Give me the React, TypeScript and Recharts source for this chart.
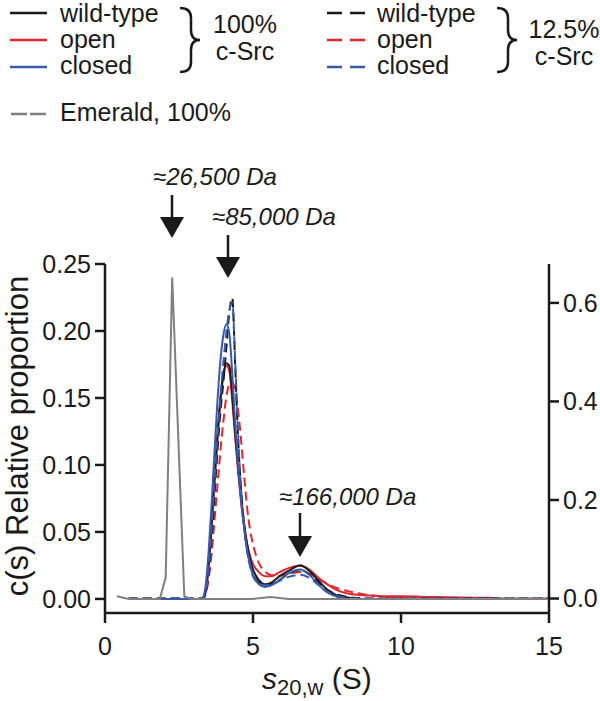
import React from 'react';
import { LineChart, Line, XAxis, YAxis } from 'recharts';

// sedimentation coefficient grid (S) shared by the c-Src traces
const sGrid = [
  0.8, 3.2, 3.3, 3.4, 3.5, 3.6, 3.7, 3.8, 3.9, 4.0, 4.1, 4.2, 4.3, 4.4, 4.5, 4.6, 4.7, 4.8, 4.9, 5.0,
  5.2, 5.4, 5.6, 5.9, 6.2, 6.6, 6.9, 7.2, 7.5, 7.8, 8.2, 8.6, 9.0, 9.5, 10, 11, 12, 13, 13.5, 15,
];

// 100% c-Src, left axis
const wildType100 = [
  0, 0, 0, 0.006, 0.025, 0.055, 0.09, 0.122, 0.15, 0.168, 0.176, 0.174, 0.152, 0.123, 0.097, 0.075, 0.056, 0.041, 0.03, 0.022,
  0.014, 0.011, 0.012, 0.017, 0.021, 0.025, 0.021, 0.014, 0.007, 0.003, 0.001, 0, 0, 0, 0, 0, 0, 0, 0, 0,
];
const open100 = [
  0, 0, 0, 0.005, 0.024, 0.054, 0.088, 0.12, 0.148, 0.166, 0.174, 0.17, 0.148, 0.12, 0.094, 0.072, 0.054, 0.041, 0.032, 0.026,
  0.02, 0.017, 0.017, 0.02, 0.023, 0.025, 0.022, 0.016, 0.011, 0.007, 0.004, 0.003, 0.0025, 0.002, 0.002, 0.0015, 0.001, 0.0008, 0, 0,
];
const closed100 = [
  0, 0, 0.001, 0.01, 0.035, 0.07, 0.11, 0.148, 0.178, 0.197, 0.205, 0.198, 0.168, 0.13, 0.098, 0.073, 0.053, 0.037, 0.026, 0.018,
  0.011, 0.009, 0.01, 0.014, 0.019, 0.022, 0.018, 0.011, 0.005, 0.002, 0, 0, 0, 0, 0, 0, 0, 0, 0, 0,
];

// 12.5% c-Src, right axis
const wildType125 = [
  0, 0, 0, 0.01, 0.05, 0.12, 0.21, 0.3, 0.38, 0.44, 0.51, 0.58, 0.61, 0.47, 0.32, 0.22, 0.15, 0.1, 0.07, 0.05,
  0.032, 0.027, 0.029, 0.038, 0.05, 0.058, 0.05, 0.033, 0.018, 0.009, 0.003, 0.001, 0, 0, 0, 0, 0, 0, 0, 0,
];
const open125 = [
  0, 0, 0, 0.008, 0.04, 0.09, 0.16, 0.23, 0.3, 0.36, 0.41, 0.435, 0.44, 0.42, 0.38, 0.32, 0.25, 0.185, 0.14, 0.11,
  0.072, 0.055, 0.048, 0.046, 0.05, 0.054, 0.05, 0.04, 0.03, 0.022, 0.015, 0.01, 0.006, 0.003, 0.001, 0, 0, 0, 0, 0,
];
const closed125 = [
  0, 0, 0, 0.012, 0.06, 0.14, 0.24, 0.33, 0.41, 0.48, 0.54, 0.585, 0.6, 0.48, 0.33, 0.22, 0.145, 0.095, 0.065, 0.045,
  0.031, 0.027, 0.029, 0.036, 0.044, 0.048, 0.042, 0.028, 0.014, 0.006, 0.001, 0, 0, 0, 0, 0, 0, 0, 0, 0,
];

// Emerald control
const emeraldS = [0.4, 0.8, 1.85, 2.05, 2.27, 2.68, 2.9, 5.0, 5.6, 6.2, 15];
const emeraldC = [0.002, 0, 0, 0.016, 0.24, 0.002, 0, 0, 0.0015, 0, 0];

const xTicks = [0, 5, 10, 15];
const leftTicks = [0, 0.05, 0.1, 0.15, 0.2, 0.25];
const rightTicks = [0, 0.2, 0.4, 0.6];

const BLACK = '#1a1a1a';
const RED = '#e2262e';
const BLUE = '#3a5aa8';
const GRAY = '#808080';
const FONT = '"Liberation Sans", Arial, Helvetica, sans-serif';

const toPoints = (xs: number[], ys: number[]) => xs.map((s, i) => ({ s, c: ys[i] }));

const tickStyle = { fontSize: 25, fill: BLACK, fontFamily: FONT };
const axisStroke = { stroke: BLACK, strokeWidth: 2.5 };

function Brace({ x, top, bottom }: { x: number; top: number; bottom: number }) {
  const mid = (top + bottom) / 2;
  const xm = x + 11;
  const xt = x + 20;
  const r = 10;
  const d = `M ${x} ${top} Q ${xm} ${top} ${xm} ${top + r} L ${xm} ${mid - r} Q ${xm} ${mid} ${xt} ${mid} Q ${xm} ${mid} ${xm} ${mid + r} L ${xm} ${bottom - r} Q ${xm} ${bottom} ${x} ${bottom}`;
  return <path d={d} fill="none" stroke={BLACK} strokeWidth={2.5} />;
}

function Arrow({ x, top, tip }: { x: number; top: number; tip: number }) {
  const head = 21;
  return (
    <g>
      <line x1={x} x2={x} y1={top} y2={tip - head + 2} stroke={BLACK} strokeWidth={2.5} />
      <polygon points={`${x - 12},${tip - head} ${x + 12},${tip - head} ${x},${tip}`} fill={BLACK} />
    </g>
  );
}

function Overlay() {
  const legendText = { fontSize: 25, fill: BLACK, fontFamily: FONT };
  const noteText = { fontSize: 24, fill: BLACK, fontFamily: FONT, fontStyle: 'italic' as const };
  return (
    <svg width={600} height={701} style={{ position: 'absolute', left: 0, top: 0, pointerEvents: 'none' }}>
      {/* 100% c-Src legend */}
      <line x1={10} x2={47} y1={13} y2={13} stroke={BLACK} strokeWidth={2.5} />
      <line x1={10} x2={47} y1={40} y2={40} stroke={RED} strokeWidth={2.5} />
      <line x1={10} x2={47} y1={67} y2={67} stroke={BLUE} strokeWidth={2.5} />
      <text x={60} y={22} {...legendText}>wild-type</text>
      <text x={60} y={47.5} {...legendText}>open</text>
      <text x={60} y={73.5} {...legendText}>closed</text>
      <Brace x={180} top={8} bottom={72} />
      <text x={245} y={33} textAnchor="middle" {...legendText}>100%</text>
      <text x={245} y={60} textAnchor="middle" {...legendText}>c-Src</text>

      {/* 12.5% c-Src legend */}
      <line x1={327} x2={365} y1={13} y2={13} stroke={BLACK} strokeWidth={2.5} strokeDasharray="15 8" />
      <line x1={327} x2={365} y1={40} y2={40} stroke={RED} strokeWidth={2.5} strokeDasharray="15 8" />
      <line x1={327} x2={365} y1={67} y2={67} stroke={BLUE} strokeWidth={2.5} strokeDasharray="15 8" />
      <text x={377} y={22} {...legendText}>wild-type</text>
      <text x={377} y={47.5} {...legendText}>open</text>
      <text x={377} y={73.5} {...legendText}>closed</text>
      <Brace x={497} top={8} bottom={72} />
      <text x={564} y={38} textAnchor="middle" {...legendText}>12.5%</text>
      <text x={564} y={65} textAnchor="middle" {...legendText}>c-Src</text>

      {/* Emerald legend */}
      <line x1={11} x2={47} y1={114} y2={114} stroke={GRAY} strokeWidth={2.5} strokeDasharray="16 3" />
      <text x={60} y={121} {...legendText}>Emerald, 100%</text>

      {/* molecular weight annotations */}
      <text x={153} y={185} {...noteText}>≈26,500 Da</text>
      <Arrow x={172} top={195} tip={238} />
      <text x={212} y={225} {...noteText}>≈85,000 Da</text>
      <Arrow x={228} top={235} tip={278} />
      <text x={279} y={505} {...noteText}>≈166,000 Da</text>
      <Arrow x={300} top={513} tip={557} />

      {/* axis titles */}
      <text
        transform="translate(28,436) rotate(-90)"
        textAnchor="middle"
        fontSize={31}
        fill={BLACK}
        fontFamily={FONT}
      >
        c(s) Relative proportion
      </text>
      <text x={262} y={689} fontSize={30} fill={BLACK} fontFamily={FONT}>
        <tspan fontStyle="italic">s</tspan>
        <tspan fontSize={22} dy={6}>20,w</tspan>
        <tspan dy={-6}> (S)</tspan>
      </text>
    </svg>
  );
}

export default function App() {
  return (
    <div style={{ position: 'absolute', left: 0, top: 0, width: 600, height: 701, background: '#fff' }}>
      <LineChart width={600} height={701} margin={{ top: 264, right: 6, bottom: 28, left: 45 }}>
        <XAxis
          type="number"
          dataKey="s"
          domain={[0, 15]}
          ticks={xTicks}
          allowDataOverflow
          height={60}
          axisLine={axisStroke}
          tickLine={axisStroke}
          tickSize={10}
          tickMargin={14}
          tick={tickStyle}
        />
        <YAxis
          yAxisId="left"
          orientation="left"
          domain={[-0.0105, 0.25]}
          ticks={leftTicks}
          allowDataOverflow
          width={60}
          axisLine={axisStroke}
          tickLine={axisStroke}
          tickSize={10}
          tickMargin={4}
          tick={tickStyle}
          tickFormatter={(v: number) => v.toFixed(2)}
        />
        <YAxis
          yAxisId="right"
          orientation="right"
          domain={[-0.0294, 0.679]}
          ticks={rightTicks}
          allowDataOverflow
          width={45}
          axisLine={axisStroke}
          tickLine={axisStroke}
          tickSize={10}
          tickMargin={4}
          tick={tickStyle}
          tickFormatter={(v: number) => v.toFixed(1)}
        />
        <Line yAxisId="right" data={toPoints(sGrid, open125)} dataKey="c" type="monotone" stroke={RED} strokeWidth={2} strokeDasharray="9 5" dot={false} isAnimationActive={false} />
        <Line yAxisId="left" data={toPoints(sGrid, open100)} dataKey="c" type="monotone" stroke={RED} strokeWidth={2} dot={false} isAnimationActive={false} />
        <Line yAxisId="left" data={toPoints(sGrid, wildType100)} dataKey="c" type="monotone" stroke={BLACK} strokeWidth={2} dot={false} isAnimationActive={false} />
        <Line yAxisId="right" data={toPoints(sGrid, wildType125)} dataKey="c" type="monotone" stroke={BLACK} strokeWidth={2} strokeDasharray="9 5" dot={false} isAnimationActive={false} />
        <Line yAxisId="left" data={toPoints(sGrid, closed100)} dataKey="c" type="monotone" stroke={BLUE} strokeWidth={2} dot={false} isAnimationActive={false} />
        <Line yAxisId="right" data={toPoints(sGrid, closed125)} dataKey="c" type="monotone" stroke={BLUE} strokeWidth={2} strokeDasharray="9 5" dot={false} isAnimationActive={false} />
        <Line yAxisId="left" data={toPoints(emeraldS, emeraldC)} dataKey="c" type="linear" stroke={GRAY} strokeWidth={2} dot={false} isAnimationActive={false} />
      </LineChart>
      <Overlay />
    </div>
  );
}
